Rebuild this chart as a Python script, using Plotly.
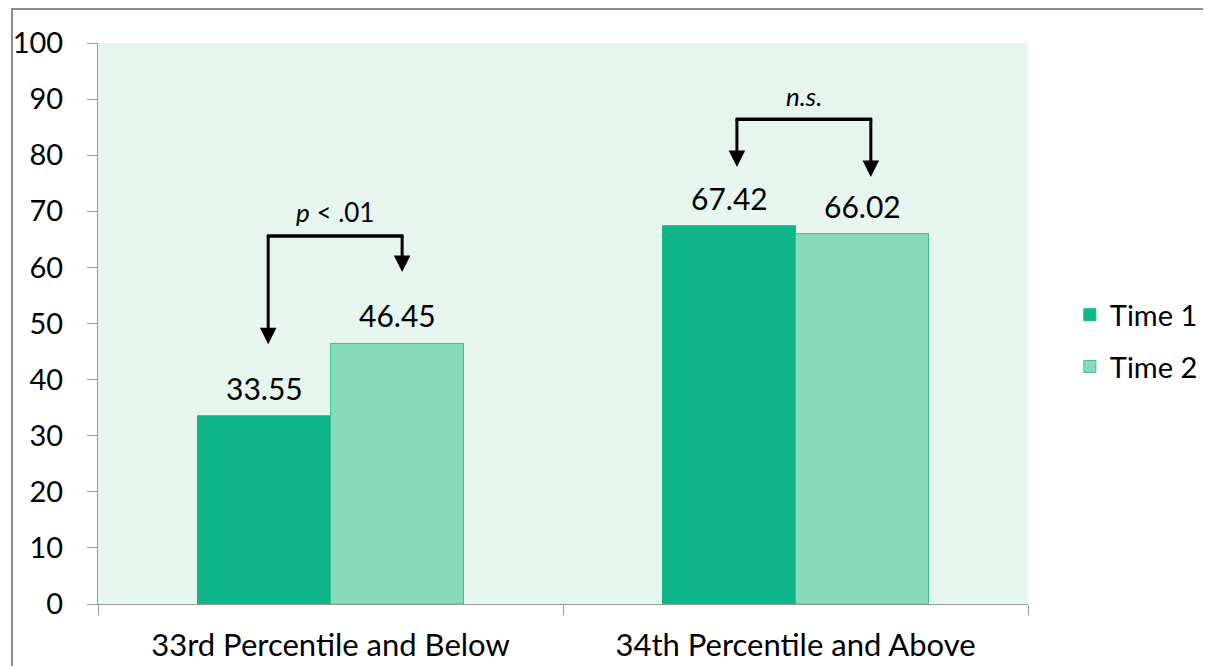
import plotly.graph_objects as go

categories = ["33rd Percentile and Below", "34th Percentile and Above"]
time1 = [33.55, 67.42]
time2 = [46.45, 66.02]
series_names = ["Time 1", "Time 2"]
y_ticks = list(range(0, 101, 10))
sig_labels = ["<i>p</i> < .01", "<i>n.s.</i>"]

FONT = "Lato, Carlito, Calibri, sans-serif"
C1 = "#10B68A"
C2 = "#87DBBA"
C2_LINE = "#3DBF92"
BG = "#E6F5EE"
AXIS = "#9A9A9A"
BARGAP = 0.428
HALF = (1 - BARGAP) / 4  # offset of each bar centre from category centre

fig = go.Figure()
fig.add_trace(go.Bar(
    x=categories, y=time1, name=series_names[0], legendgroup="t1",
    marker=dict(color=C1, line=dict(color=C1, width=1)),
))
fig.add_trace(go.Bar(
    x=categories, y=time2, name=series_names[1], legendgroup="t2",
    marker=dict(color=C2, line=dict(color=C2_LINE, width=1)),
))

annotations = []
# value labels
for series, off in ((time1, -HALF), (time2, HALF)):
    for ci, v in enumerate(series):
        annotations.append(dict(x=ci + off, y=v, xref="x", yref="y",
                                text=f"{v:.2f}", showarrow=False,
                                yanchor="middle", yshift=28,
                                font=dict(size=30, color="black", family=FONT)))

# significance brackets: (category index, left x offset, right x offset, bar y, left tip, right tip, label y)
brackets = [
    (0, -0.134, 0.154, 65.6, 46.3, 59.2, 69.8),
    (1, -0.126, 0.162, 86.4, 77.9, 76.1, 90.5),
]
shapes = []
for (ci, lo, ro, by, lt, rt, ly), lab in zip(brackets, sig_labels):
    shapes.append(dict(type="line", xref="x", yref="y", x0=ci + lo - 0.003, x1=ci + ro + 0.003,
                       y0=by, y1=by, line=dict(color="black", width=3.5)))
    for xo, tip in ((lo, lt), (ro, rt)):
        annotations.append(dict(x=ci + xo, y=tip, ax=ci + xo, ay=by + 0.3,
                                xref="x", yref="y", axref="x", ayref="y",
                                text="", showarrow=True, arrowhead=2,
                                arrowsize=1.1, arrowwidth=3, arrowcolor="black"))
    annotations.append(dict(x=ci + (lo + ro) / 2, y=ly, xref="x", yref="y",
                            text=lab, showarrow=False,
                            font=dict(size=26, color="black", family=FONT)))

# outer frame (left and top edges only; the rest lies outside the picture)
shapes.append(dict(type="path", xref="paper", yref="paper",
                   path="M -0.0925,-0.3 L -0.0925,1.0606 L 1.5,1.0606",
                   line=dict(color="#8C8C8C", width=2), layer="below"))

fig.update_layout(
    width=1203, height=658,
    margin=dict(l=90, r=183, t=35, b=62, autoexpand=False),
    paper_bgcolor="white",
    plot_bgcolor=BG,
    barmode="group",
    bargap=BARGAP,
    bargroupgap=0,
    font=dict(family=FONT, color="black"),
    legend=dict(x=1.045, y=0.469, yanchor="middle", xanchor="left",
                font=dict(size=29, family=FONT), tracegroupgap=11,
                itemwidth=30, bgcolor="rgba(0,0,0,0)"),
    shapes=shapes,
    annotations=annotations,
    showlegend=True,
)
fig.update_xaxes(
    type="category", tickson="boundaries", ticks="outside", ticklen=10,
    tickcolor=AXIS, showline=True, linecolor=AXIS, linewidth=1,
    showgrid=False, tickfont=dict(size=31, family=FONT), ticklabelstandoff=14,
    automargin=False,
)
fig.update_yaxes(
    range=[0, 100], tickvals=y_ticks, ticks="outside", ticklen=10,
    tickcolor=AXIS, showline=True, linecolor=AXIS, linewidth=1,
    showgrid=False, zeroline=False, tickfont=dict(size=29, family=FONT),
    ticklabelstandoff=18, automargin=False,
)

fig.write_html("out.html")
